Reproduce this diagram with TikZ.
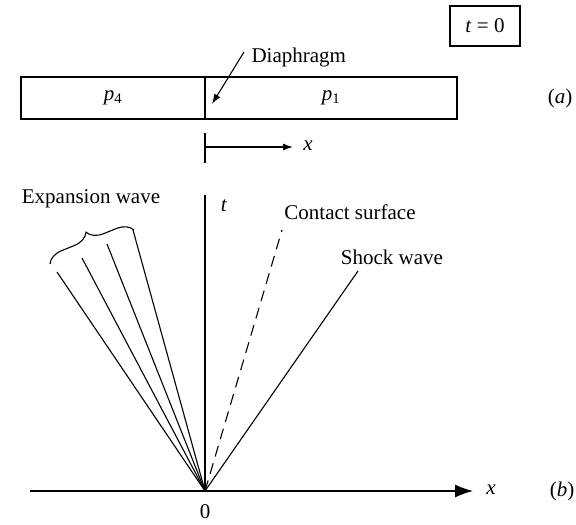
\documentclass[tikz,border=0pt]{standalone}
\usepackage{fontspec}
\setmainfont{Liberation Serif}
\usetikzlibrary{arrows.meta,decorations.pathreplacing}
\begin{document}
\begin{tikzpicture}[x=1pt,y=-1pt,line width=1.1pt,
  lbl/.style={font=\fontsize{21}{25}\selectfont, inner sep=0pt},
  tube/.style={draw, minimum height=42pt, inner sep=0pt, font=\fontsize{21}{25}\selectfont},
  wave/.style={line width=1.1pt},
  bigtip/.style={-{Latex[length=18pt,width=13pt]}},
  smalltip/.style={-{Latex[length=10pt,width=7pt]}}]
\useasboundingbox (0,0) rectangle (576,525);
% (a) shock tube at t=0
\node[draw, lbl, minimum width=70pt, minimum height=40pt] (tbox) at (485,26) {\textit{t} = 0};
\node[tube, minimum width=184pt] (p4box) at (113,98) {\textit{p}\textsubscript{4}};
\node[tube, minimum width=252pt] (p1box) at (331,98) {\textit{p}\textsubscript{1}};
\node[lbl, anchor=west] (diaph) at (251,57) {Diaphragm};
\coordinate (dstart) at (244,52);
\coordinate (dtip) at (212,104);
\draw[smalltip] (dstart) -- (dtip);
\node[lbl] (alabel) at (560,98) {(\textit{a})};
\coordinate (tickT) at (205,133);
\coordinate (tickB) at (205,163);
\coordinate (xa0) at (205,147);
\coordinate (xa1) at (293,147);
\draw (tickT) -- (tickB);
\draw[smalltip] (xa0) -- (xa1);
\node[lbl] (xalabel) at (308,146) {\textit{x}};
% (b) x-t diagram
\coordinate (O) at (205,491);
\coordinate (axL) at (30,491);
\coordinate (axR) at (473,491);
\coordinate (T) at (205,195);
\draw[bigtip] (axL) -- (axR);
\draw (O) -- (T);
\node[lbl] (xlabel) at (491,490) {\textit{x}};
\node[lbl] (blabel) at (562,491) {(\textit{b})};
\node[lbl] (zero) at (205,512) {0};
\node[lbl] (tlabel) at (224,206) {\textit{t}};
% expansion fan
\coordinate (E1) at (57,272);
\coordinate (E2) at (82,258);
\coordinate (E3) at (107,244);
\coordinate (E4) at (133,230);
\foreach \e in {E1,E2,E3,E4} \draw[wave] (O) -- (\e);
\coordinate (BrA) at (50,264);
\coordinate (BrB) at (134,230);
\draw[decorate, decoration={brace, amplitude=16pt}] (BrA) -- (BrB);
\node[lbl] (explabel) at (91,199) {Expansion wave};
% contact surface
\coordinate (C) at (282,230);
\draw[dash pattern=on 11pt off 7pt] (O) -- (C);
\node[lbl] (contlabel) at (350,212) {Contact surface};
% shock wave
\coordinate (S) at (358,271);
\draw[wave] (O) -- (S);
\node[lbl] (shocklabel) at (392,257) {Shock wave};
\end{tikzpicture}
\end{document}
